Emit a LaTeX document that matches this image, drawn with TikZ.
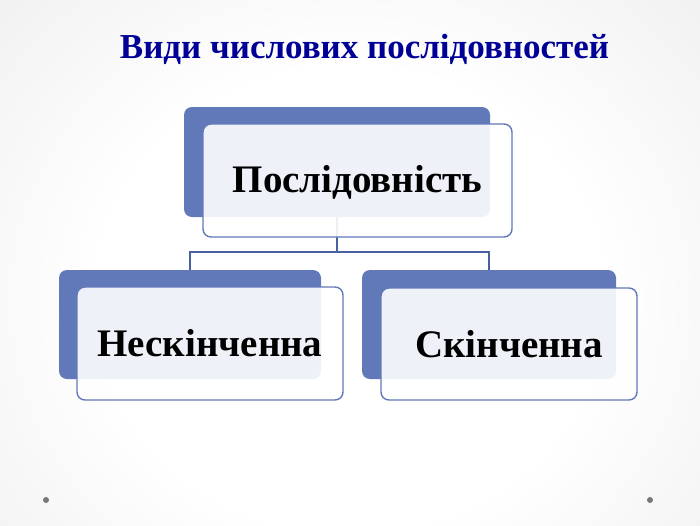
\documentclass[tikz,border=0pt]{standalone}
\usepackage{fontspec}
\setmainfont{Liberation Serif}
\definecolor{boxblue}{RGB}{98,121,185}
\definecolor{linkblue}{RGB}{72,96,160}
\definecolor{titleblue}{RGB}{0,0,150}
\definecolor{dotgray}{RGB}{120,120,120}
\pgfdeclareradialshading{bgshade}{\pgfpoint{0bp}{0bp}}{color(0bp)=(white); color(18bp)=(white); color(36bp)=(black!6); color(50bp)=(black!14); color(72bp)=(black!19)}
\tikzset{
  backbox/.style={fill=boxblue, rounded corners=8pt, inner sep=0pt},
  frontbox/.style={draw=boxblue, line width=1.4pt, fill=white, fill opacity=0.9, text opacity=1,
    rounded corners=8pt, inner sep=0pt, font=\bfseries\fontsize{39}{44}\selectfont},
  link/.style={draw=linkblue, line width=1.3pt},
  titlestyle/.style={text=titleblue, font=\bfseries\fontsize{35}{40}\selectfont},
}
\begin{document}
\begin{tikzpicture}[x=1pt,y=-1pt]
\useasboundingbox (0,0) rectangle (700,525);
\shade[shading=bgshade] (0,-20) rectangle (700,620);
\node[titlestyle, anchor=base] (title) at (364.5,58) {Види числових послідовностей};
% back boxes
\node[backbox, minimum width=306pt, minimum height=110pt] (tb) at (337,162) {};
\node[backbox, minimum width=262pt, minimum height=109pt] (lb) at (190,324.5) {};
\node[backbox, minimum width=254pt, minimum height=109pt] (rb) at (489,324.5) {};
% connectors
\coordinate (j) at (337,252);
\draw[link] (tb.south) -- (j) -| (lb.north);
\draw[link] (j) -| (rb.north);
% front boxes
\node[frontbox, minimum width=309pt, minimum height=113pt, text depth=4pt] (tf) at (357.5,180.5) {Послідовність};
\node[frontbox, minimum width=266pt, minimum height=113pt] (lf) at (210,343.5) {Нескінченна};
\node[frontbox, minimum width=256pt, minimum height=112pt] (rf) at (509,344) {Скінченна};
% dots
\fill[dotgray] (46,500) circle (3pt);
\fill[dotgray] (650,500) circle (3pt);
\end{tikzpicture}
\end{document}
